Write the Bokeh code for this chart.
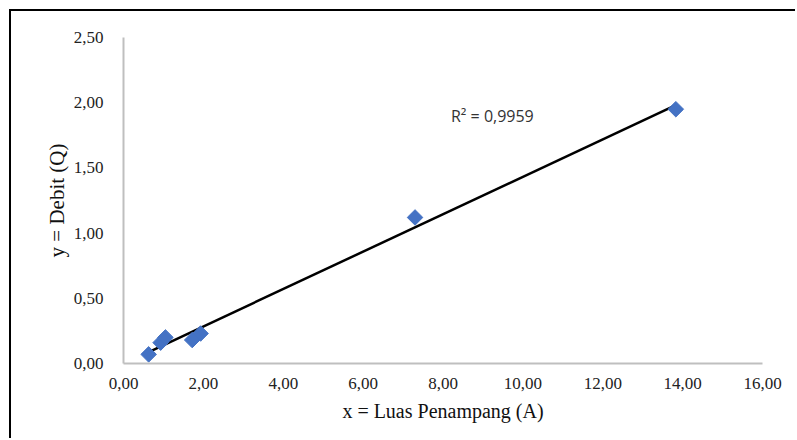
import math
import numpy as np
from bokeh.plotting import figure
from bokeh.models import FixedTicker, CustomJSTickFormatter, Range1d, Label, ColumnDataSource
from bokeh.embed import file_html
from bokeh.resources import INLINE

# Data
luas_penampang = [0.63, 0.93, 1.05, 1.72, 1.93, 7.30, 13.83]
debit = [0.07, 0.16, 0.20, 0.18, 0.23, 1.12, 1.95]
x_ticks = [0, 2, 4, 6, 8, 10, 12, 14, 16]
y_ticks = [0.0, 0.5, 1.0, 1.5, 2.0, 2.5]
r2_text = "R² = 0,9959"

# linear trendline from the data
slope, intercept = np.polyfit(luas_penampang, debit, 1)
tx = [min(luas_penampang), max(luas_penampang)]
ty = [slope * v + intercept for v in tx]

OFF = 11
p = figure(width=797 - OFF, height=440 - OFF, output_backend="svg", toolbar_location=None,
           x_range=Range1d(0, 16), y_range=Range1d(0, 2.5),
           min_border_left=123 - OFF, min_border_right=35,
           min_border_top=37 - OFF, min_border_bottom=77)
p.styles = {"margin-left": "9px", "margin-top": "9px",
            "border-left": "2px solid black", "border-top": "2px solid black"}
p.outline_line_color = None
p.xgrid.grid_line_color = None
p.ygrid.grid_line_color = None

fmt = CustomJSTickFormatter(code="return tick.toFixed(2).replace('.', ',');")
for ax, ticks in ((p.xaxis[0], x_ticks), (p.yaxis[0], y_ticks)):
    ax.ticker = FixedTicker(ticks=ticks)
    ax.formatter = fmt
    ax.axis_line_color = "#bfbfbf"
    ax.axis_line_width = 2
    ax.major_tick_line_color = None
    ax.minor_tick_line_color = None
    ax.major_label_text_font = "Liberation Serif"
    ax.major_label_text_font_size = "17px"
    ax.major_label_text_color = "#222222"
    ax.axis_label_text_font = "Liberation Serif"
    ax.axis_label_text_font_size = "20px"
    ax.axis_label_text_font_style = "normal"
    ax.axis_label_text_color = "#111111"

p.yaxis.axis_label_text_font_size = "21px"
p.xaxis.axis_label = "x = Luas Penampang (A)"
p.yaxis.axis_label = "y = Debit (Q)"
p.xaxis.major_label_standoff = 8
p.yaxis.major_label_standoff = 14
p.xaxis.axis_label_standoff = 8
p.yaxis.axis_label_standoff = 2

p.line(tx, ty, line_color="black", line_width=2.5)
src = ColumnDataSource(dict(x=luas_penampang, y=debit))
p.scatter("x", "y", source=src, marker="square", size=11, angle=math.pi / 4,
          fill_color="#4472C4", line_color="#4472C4")

p.add_layout(Label(x=8.2, y=1.90, text=r2_text, text_font="Open Sans",
                   text_font_size="16px", text_color="#333333", text_align="left",
                   text_baseline="middle"))

open("out.html", "w").write(file_html(p, INLINE))
